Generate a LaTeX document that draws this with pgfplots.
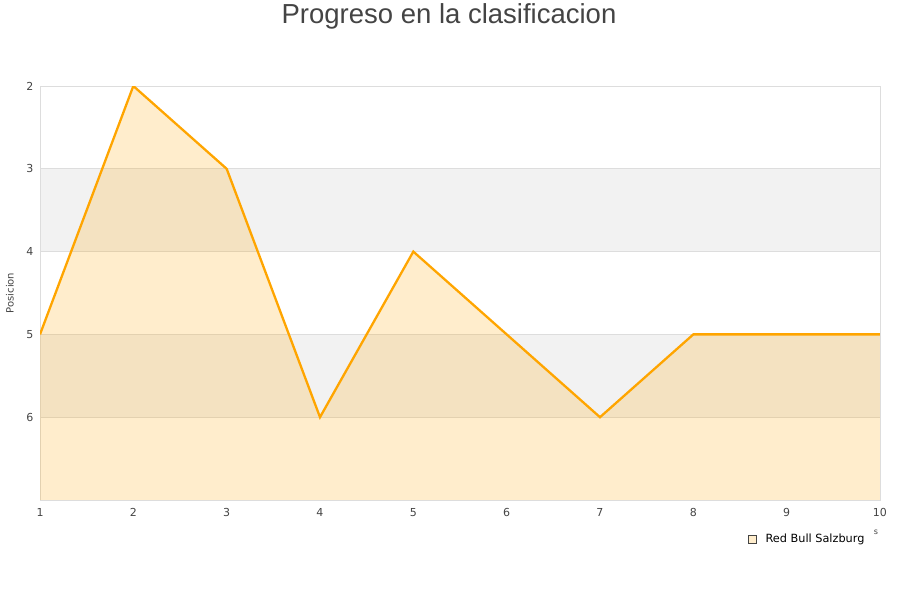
\documentclass[border=0pt]{standalone}
\usepackage{pgfplots}
\pgfplotsset{compat=1.18}
\usepackage{fontspec}
\setmainfont{DejaVu Sans}
\newfontfamily\titlefont{Liberation Sans}
\definecolor{lineorange}{HTML}{FFA500}
\definecolor{bandgray}{HTML}{F2F2F2}
\definecolor{gridgray}{HTML}{DDDDDD}
\definecolor{ticktext}{HTML}{444444}
\begin{document}
\begin{tikzpicture}[x=1pt,y=1pt]
\path (0,0) rectangle (900,600);
\node[font=\titlefont\fontsize{27.5}{31}\selectfont, text=ticktext] at (449,583.5) {Progreso en la clasificacion};
\begin{axis}[
  at={(40pt,100pt)}, anchor=south west,
  scale only axis, width=840pt, height=414pt,
  xmin=1, xmax=10, ymin=2, ymax=7,
  y dir=reverse,
  xtick={1,...,10}, ytick={2,...,6},
  tick style={draw=none},
  ticklabel style={font=\fontsize{11}{13}\selectfont, text=ticktext},
  /pgf/number format/assume math mode=true,
  xticklabel style={yshift=-5pt},
  yticklabel style={xshift=-3pt},
  axis line style={draw=gridgray},
  set layers, axis on top=false,
  clip=true,
]
\begin{pgfonlayer}{axis background}
\fill[bandgray] (axis cs:1,3) rectangle (axis cs:10,4);
\fill[bandgray] (axis cs:1,5) rectangle (axis cs:10,6);
\foreach \g in {3,4,5,6}{
  \edef\tmp{\noexpand\draw[gridgray, line width=0.8pt] (axis cs:1,\g) -- (axis cs:10,\g);}\tmp
}
\end{pgfonlayer}
% filled area under the position line, down to the bottom edge
\addplot[draw=none, fill=lineorange, fill opacity=0.2] coordinates {
(1,7) (1,5) (2,2) (3,3) (4,6) (5,4) (6,5) (7,6) (8,5) (9,5) (10,5) (10,7)
} -- cycle;
\addplot[lineorange, line width=2.3pt, mark=none] coordinates {
(1,5) (2,2) (3,3) (4,6) (5,4) (6,5) (7,6) (8,5) (9,5) (10,5)
};
\end{axis}
\node[rotate=90, font=\fontsize{10}{12}\selectfont, text=ticktext] at (10,307) {Posicion};
\node[font=\fontsize{8}{9}\selectfont, text=ticktext] at (876,68) {s};
\fill[lineorange!20, draw=ticktext, line width=0.6pt] (748,57) rectangle (756,65);
\node[anchor=west, font=\fontsize{11.3}{13}\selectfont] at (762,61) {Red Bull Salzburg};
\end{tikzpicture}
\end{document}
